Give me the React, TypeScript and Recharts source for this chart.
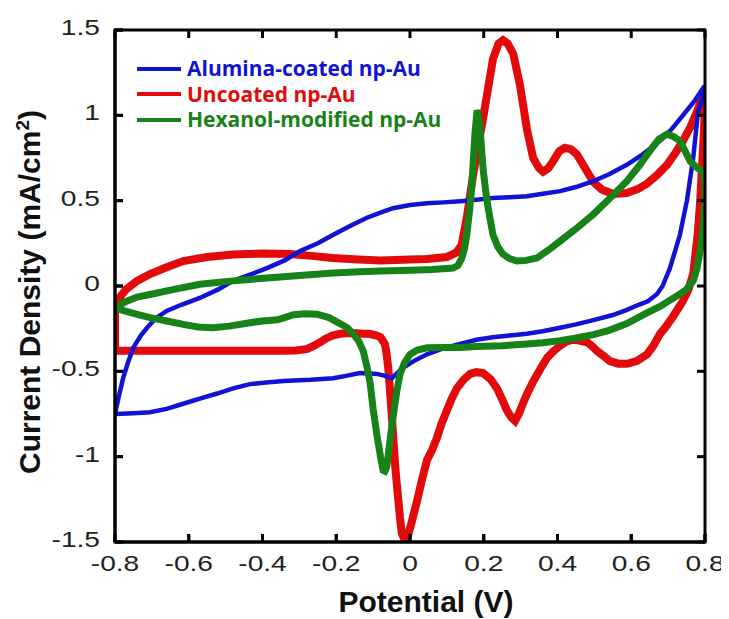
import { LineChart, Line, XAxis, YAxis } from 'recharts';

// potential (V), current density (mA/cm2), in sweep order
const uncoated: [number, number][] = [
  [-0.8, -0.14], [-0.785, -0.06], [-0.77, -0.02], [-0.74, 0.03], [-0.705, 0.07], [-0.66, 0.11],
  [-0.615, 0.146], [-0.55, 0.17], [-0.48, 0.185], [-0.4, 0.19], [-0.325, 0.187], [-0.26, 0.175],
  [-0.21, 0.164], [-0.14, 0.155], [-0.08, 0.15], [0.0, 0.155], [0.046, 0.158], [0.1, 0.17],
  [0.125, 0.195], [0.14, 0.24], [0.154, 0.4], [0.171, 0.65], [0.198, 0.98], [0.225, 1.33],
  [0.24, 1.42], [0.252, 1.44], [0.265, 1.42], [0.28, 1.36], [0.298, 1.18], [0.317, 0.92],
  [0.334, 0.75], [0.35, 0.69], [0.361, 0.67], [0.375, 0.69], [0.388, 0.73], [0.405, 0.79],
  [0.42, 0.81], [0.437, 0.8], [0.453, 0.77], [0.475, 0.69], [0.497, 0.61], [0.52, 0.565],
  [0.55, 0.54], [0.588, 0.545], [0.62, 0.57], [0.643, 0.6], [0.67, 0.65], [0.697, 0.71],
  [0.72, 0.78], [0.74, 0.85], [0.76, 0.93], [0.778, 1.02], [0.795, 1.12], [0.8, 1.16],
  [0.8, 1.1], [0.797, 0.9], [0.792, 0.7], [0.787, 0.5], [0.78, 0.3], [0.768, 0.07],
  [0.755, -0.02], [0.74, -0.088], [0.713, -0.18], [0.69, -0.25], [0.678, -0.28], [0.66, -0.35],
  [0.643, -0.4], [0.615, -0.44], [0.588, -0.456], [0.565, -0.455], [0.542, -0.44], [0.525, -0.41],
  [0.507, -0.38], [0.49, -0.345], [0.48, -0.33], [0.46, -0.32], [0.442, -0.315], [0.425, -0.325],
  [0.407, -0.35], [0.39, -0.38], [0.372, -0.42], [0.355, -0.48], [0.334, -0.56], [0.318, -0.63],
  [0.306, -0.69], [0.295, -0.75], [0.285, -0.79], [0.275, -0.77], [0.263, -0.73], [0.25, -0.665],
  [0.236, -0.6], [0.218, -0.545], [0.198, -0.51], [0.18, -0.505], [0.163, -0.515], [0.145, -0.55],
  [0.127, -0.6], [0.113, -0.66], [0.1, -0.73], [0.085, -0.81], [0.073, -0.89], [0.06, -0.96],
  [0.046, -1.02], [0.032, -1.14], [0.019, -1.26], [0.005, -1.38], [-0.005, -1.46], [-0.014, -1.49],
  [-0.022, -1.45], [-0.027, -1.36], [-0.034, -1.2], [-0.04, -1.06], [-0.045, -0.9], [-0.049, -0.77],
  [-0.054, -0.62], [-0.059, -0.48], [-0.064, -0.39], [-0.068, -0.34], [-0.08, -0.3], [-0.09, -0.29],
  [-0.11, -0.28], [-0.127, -0.28], [-0.145, -0.277], [-0.163, -0.275], [-0.19, -0.28], [-0.21, -0.29],
  [-0.23, -0.31], [-0.244, -0.33], [-0.26, -0.35], [-0.28, -0.37], [-0.31, -0.378], [-0.343, -0.38],
  [-0.4, -0.38], [-0.48, -0.38], [-0.56, -0.38], [-0.66, -0.38], [-0.74, -0.38], [-0.8, -0.38],
  [-0.8, -0.3], [-0.8, -0.2], [-0.8, -0.14],
];

const alumina: [number, number][] = [
  [-0.8, -0.75], [-0.79, -0.65], [-0.778, -0.54], [-0.765, -0.45], [-0.75, -0.36], [-0.73, -0.29],
  [-0.713, -0.245], [-0.69, -0.19], [-0.66, -0.146], [-0.62, -0.11], [-0.57, -0.07], [-0.52, -0.02],
  [-0.48, 0.03], [-0.43, 0.07], [-0.388, 0.105], [-0.34, 0.15], [-0.298, 0.205], [-0.25, 0.25],
  [-0.208, 0.3], [-0.16, 0.355], [-0.117, 0.4], [-0.08, 0.43], [-0.046, 0.456], [0.0, 0.475],
  [0.046, 0.485], [0.09, 0.49], [0.136, 0.497], [0.18, 0.505], [0.225, 0.515], [0.27, 0.52],
  [0.317, 0.526], [0.36, 0.54], [0.407, 0.556], [0.45, 0.58], [0.497, 0.614], [0.54, 0.655],
  [0.588, 0.71], [0.63, 0.77], [0.678, 0.85], [0.71, 0.92], [0.74, 1.0], [0.77, 1.08],
  [0.795, 1.16], [0.8, 1.15], [0.781, 1.02], [0.768, 0.75], [0.751, 0.5], [0.732, 0.3],
  [0.705, 0.105], [0.685, 0.0], [0.67, -0.047], [0.645, -0.09], [0.62, -0.11], [0.588, -0.14],
  [0.55, -0.17], [0.497, -0.2], [0.45, -0.225], [0.407, -0.245], [0.36, -0.265], [0.317, -0.28],
  [0.27, -0.29], [0.225, -0.3], [0.18, -0.315], [0.136, -0.34], [0.09, -0.365], [0.046, -0.4],
  [0.01, -0.44], [-0.019, -0.48], [-0.035, -0.51], [-0.049, -0.54], [-0.07, -0.525], [-0.09, -0.515],
  [-0.136, -0.51], [-0.17, -0.525], [-0.208, -0.54], [-0.27, -0.55], [-0.343, -0.556], [-0.39, -0.565],
  [-0.434, -0.575], [-0.48, -0.6], [-0.523, -0.63], [-0.57, -0.66], [-0.615, -0.69], [-0.66, -0.72],
  [-0.705, -0.74], [-0.75, -0.745], [-0.8, -0.75],
];

const hexanol: [number, number][] = [
  [-0.8, -0.13], [-0.77, -0.09], [-0.74, -0.065], [-0.705, -0.05], [-0.64, -0.02], [-0.57, 0.01],
  [-0.48, 0.03], [-0.388, 0.047], [-0.3, 0.062], [-0.208, 0.076], [-0.136, 0.083], [-0.081, 0.088],
  [0.0, 0.092], [0.06, 0.097], [0.117, 0.105], [0.13, 0.12], [0.14, 0.16], [0.148, 0.22],
  [0.154, 0.3], [0.162, 0.45], [0.168, 0.6], [0.176, 0.89], [0.182, 1.03], [0.186, 1.0],
  [0.19, 0.92], [0.198, 0.69], [0.205, 0.56], [0.212, 0.456], [0.225, 0.3], [0.238, 0.23],
  [0.252, 0.187], [0.27, 0.16], [0.29, 0.146], [0.315, 0.15], [0.344, 0.164], [0.375, 0.21],
  [0.407, 0.263], [0.45, 0.335], [0.497, 0.42], [0.54, 0.51], [0.588, 0.614], [0.62, 0.7],
  [0.65, 0.79], [0.675, 0.86], [0.697, 0.89], [0.715, 0.875], [0.732, 0.85], [0.746, 0.79],
  [0.76, 0.73], [0.78, 0.69], [0.795, 0.67], [0.8, 0.6], [0.8, 0.5], [0.795, 0.35],
  [0.787, 0.205], [0.778, 0.1], [0.768, 0.03], [0.75, -0.02], [0.732, -0.047], [0.7, -0.09],
  [0.678, -0.12], [0.64, -0.16], [0.588, -0.22], [0.54, -0.26], [0.497, -0.285], [0.45, -0.305],
  [0.407, -0.32], [0.36, -0.332], [0.317, -0.34], [0.25, -0.35], [0.18, -0.355], [0.136, -0.36],
  [0.09, -0.36], [0.046, -0.362], [0.02, -0.375], [0.0, -0.4], [-0.015, -0.45], [-0.027, -0.515],
  [-0.036, -0.62], [-0.046, -0.77], [-0.055, -0.92], [-0.063, -1.06], [-0.068, -1.085], [-0.073, -1.08],
  [-0.08, -1.0], [-0.09, -0.87], [-0.1, -0.72], [-0.108, -0.57], [-0.117, -0.47], [-0.127, -0.38],
  [-0.14, -0.32], [-0.154, -0.28], [-0.17, -0.245], [-0.19, -0.22], [-0.22, -0.185], [-0.252, -0.165],
  [-0.285, -0.162], [-0.316, -0.168], [-0.34, -0.185], [-0.36, -0.198], [-0.4, -0.205], [-0.434, -0.215],
  [-0.49, -0.235], [-0.534, -0.245], [-0.575, -0.24], [-0.615, -0.225], [-0.66, -0.205], [-0.705, -0.185],
  [-0.75, -0.16], [-0.8, -0.13],
];

const xTicks = [-0.8, -0.6, -0.4, -0.2, 0, 0.2, 0.4, 0.6, 0.8];
const yTicks = [-1.5, -1, -0.5, 0, 0.5, 1, 1.5];
const X_DOMAIN = [-0.8, 0.8];
const Y_DOMAIN = [-1.5, 1.5];

const series = [
  { name: 'Alumina-coated np-Au', color: '#1212d6', width: 4.5, data: alumina },
  { name: 'Uncoated np-Au', color: '#e20a0a', width: 8, data: uncoated },
  { name: 'Hexanol-modified np-Au', color: '#178217', width: 7, data: hexanol },
];

const toRows = (pts: [number, number][]) => pts.map(([x, y]) => ({ x, y }));

const FONT = '"Liberation Sans", Arial, sans-serif';
const W = 729, H = 619;
const MARGIN = { top: 30, right: 24, left: 0, bottom: 0 };
const Y_AXIS_W = 115, X_AXIS_H = 77;
// plot box, same numbers Recharts lays the chart out with
const PLOT = {
  left: MARGIN.left + Y_AXIS_W, top: MARGIN.top,
  width: W - MARGIN.left - MARGIN.right - Y_AXIS_W, height: H - MARGIN.top - MARGIN.bottom - X_AXIS_H,
};

const XTick = ({ x, y, payload }: any) => (
  <text transform={`translate(${x},${y + 29}) scale(1.28,1)`} textAnchor="middle"
    fontFamily={FONT} fontSize={22} fill="#222">{payload.value}</text>
);

const YTick = ({ x, y, payload }: any) => (
  <text transform={`translate(${x - 15},${y + 5}) scale(1.28,1)`} textAnchor="end"
    fontFamily={FONT} fontSize={22} fill="#222">{payload.value}</text>
);

const XTitle = () => (
  <text x={426} y={612} textAnchor="middle" fontFamily={FONT} fontWeight={700} fontSize={30} fill="#111">
    Potential (V)
  </text>
);

const YTitle = () => (
  <text transform="translate(40,292) rotate(-90)" textAnchor="middle" fontFamily={FONT}
    fontWeight={700} fontSize={30} fill="#111">
    Current Density (mA/cm<tspan dy={-11} fontSize={19}>2</tspan><tspan dy={11}>)</tspan>
  </text>
);

// boxed frame with inward ticks on all four sides
const Frame = () => {
  const px = (v: number) => PLOT.left + ((v - X_DOMAIN[0]) / (X_DOMAIN[1] - X_DOMAIN[0])) * PLOT.width;
  const py = (v: number) => PLOT.top + ((Y_DOMAIN[1] - v) / (Y_DOMAIN[1] - Y_DOMAIN[0])) * PLOT.height;
  const b = PLOT.top + PLOT.height, r = PLOT.left + PLOT.width, t = 8;
  return (
    <svg width={W} height={H} style={{ position: 'absolute', left: 0, top: 0, pointerEvents: 'none' }}>
      <g stroke="#000" strokeWidth={3} fill="none">
        <rect x={PLOT.left} y={PLOT.top} width={PLOT.width} height={PLOT.height} />
        {xTicks.map((v) => (
          <g key={`x${v}`}>
            <line x1={px(v)} y1={b} x2={px(v)} y2={b - t} />
            <line x1={px(v)} y1={PLOT.top} x2={px(v)} y2={PLOT.top + t} />
          </g>
        ))}
        {yTicks.map((v) => (
          <g key={`y${v}`}>
            <line x1={PLOT.left} y1={py(v)} x2={PLOT.left + t} y2={py(v)} />
            <line x1={r} y1={py(v)} x2={r - t} y2={py(v)} />
          </g>
        ))}
      </g>
    </svg>
  );
};

export default function App() {
  return (
    <div style={{ margin: '-8px 0 0 -8px', width: W, height: H, position: 'relative' }}>
      <LineChart width={W} height={H} margin={MARGIN}>
        <XAxis dataKey="x" type="number" domain={X_DOMAIN} ticks={xTicks} interval={0} allowDataOverflow
          height={X_AXIS_H} tickSize={-8} tickMargin={8} stroke="#000" strokeWidth={3} tick={<XTick />}
          label={{ content: () => <XTitle /> }} />
        <YAxis type="number" domain={Y_DOMAIN} ticks={yTicks} interval={0} allowDataOverflow
          width={Y_AXIS_W} tickSize={-8} tickMargin={8} stroke="#000" strokeWidth={3} tick={<YTick />}
          label={{ content: () => <YTitle /> }} />
        {[series[1], series[0], series[2]].map((s) => (
          <Line key={s.name} name={s.name} data={toRows(s.data)} dataKey="y" type="linear" stroke={s.color}
            strokeWidth={s.width} dot={false} isAnimationActive={false} />
        ))}
      </LineChart>
      <Frame />
      {/* legend inside the plot, top-left */}
      <div style={{ position: 'absolute', left: 137, top: 56, fontFamily: '"Open Sans", sans-serif',
        fontWeight: 700, fontSize: 21 }}>
        {series.map((s) => (
          <div key={s.name} style={{ display: 'flex', alignItems: 'center', height: 25.5 }}>
            <span style={{ display: 'inline-block', width: 44, height: 4, background: s.color, marginRight: 6 }} />
            <span style={{ color: s.color, lineHeight: '25px', whiteSpace: 'nowrap' }}>{s.name}</span>
          </div>
        ))}
      </div>
    </div>
  );
}
